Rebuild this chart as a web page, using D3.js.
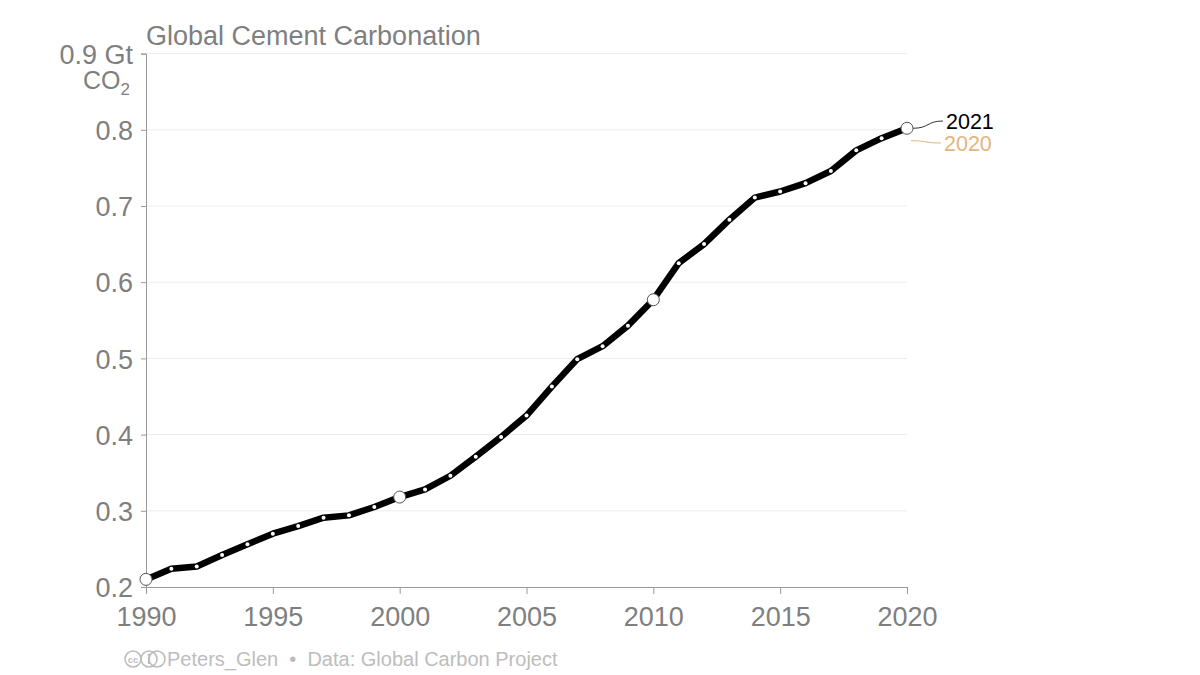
<!DOCTYPE html>
<html>
<head>
<meta charset="utf-8">
<script src="https://cdn.jsdelivr.net/npm/d3@7"></script>
<style>
    body { margin: 0; background: #fff; }
    svg { font-family: "Liberation Sans", Arial, sans-serif; }
</style>
</head>
<body>
<div id="chart"></div>
<script>
// Global cement carbonation, Gt CO2 (GCB 2021 release)
const years = d3.range(1990, 2021);
const values2021 = [
    0.210, 0.224, 0.227, 0.242, 0.256, 0.270, 0.280, 0.291, 0.294, 0.305,
    0.318, 0.328, 0.346, 0.371, 0.397, 0.425, 0.463, 0.499, 0.516, 0.543,
    0.577, 0.625, 0.650, 0.682, 0.711, 0.719, 0.730, 0.746, 0.773, 0.789,
    0.802
];
// end of the 2020 release, sits under the 2021 line
const end2020 = { year: 2020, value: 0.787 };
const yTicks = [0.2, 0.3, 0.4, 0.5, 0.6, 0.7, 0.8, 0.9];
const xTicks = [1990, 1995, 2000, 2005, 2010, 2015, 2020];
const bigDots = [1990, 2000, 2010, 2020];

const W = 1200, H = 675;
const margin = { top: 53.6, right: 293, bottom: 88, left: 146 };
const width = W - margin.left - margin.right;
const height = H - margin.top - margin.bottom;

const svg = d3.select("#chart").append("svg")
    .attr("width", W)
    .attr("height", H);

const g = svg.append("g")
    .attr("transform", `translate(${margin.left},${margin.top})`);

const x = d3.scaleLinear().domain([1990, 2020]).range([0, width]);
const y = d3.scaleLinear().domain([0.2, 0.9]).range([height, 0]);

const grey = "#7f7f7f";

// Gridlines
g.selectAll(".grid")
    .data(yTicks.slice(1))
    .enter().append("line")
    .attr("x1", 0).attr("x2", width)
    .attr("y1", d => y(d)).attr("y2", d => y(d))
    .attr("stroke", "#ececec")
    .attr("stroke-width", 1);

// Axes
const yAxis = g.append("g")
    .call(d3.axisLeft(y).tickValues(yTicks).tickSize(5).tickPadding(8)
        .tickFormat(d => d === 0.9 ? "0.9 Gt" : d3.format(".1f")(d)));
const xAxis = g.append("g")
    .attr("transform", `translate(0,${height})`)
    .call(d3.axisBottom(x).tickValues(xTicks).tickSize(7).tickPadding(13).tickFormat(d3.format("d")));

[yAxis, xAxis].forEach(a => {
    a.select(".domain").attr("stroke", "#999");
    a.selectAll(".tick line").attr("stroke", "#999");
    a.selectAll("text").attr("fill", grey).style("font-size", "27px");
});
yAxis.selectAll(".tick text").attr("dy", "0.36em");

// unit line under top tick
g.append("text")
    .attr("x", -16)
    .attr("y", y(0.9) + 35)
    .attr("text-anchor", "end")
    .attr("fill", grey)
    .style("font-size", "25px")
    .html('CO<tspan dy="6" font-size="17px">2</tspan>');

// Title
svg.append("text")
    .attr("x", margin.left)
    .attr("y", 45)
    .attr("fill", grey)
    .style("font-size", "27px")
    .text("Global Cement Carbonation");

// Line
const data = years.map((yr, i) => ({ year: yr, value: values2021[i] }));
const line = d3.line().x(d => x(d.year)).y(d => y(d.value));

g.append("path")
    .datum(data)
    .attr("d", line)
    .attr("fill", "none")
    .attr("stroke", "#000")
    .attr("stroke-width", 6.5)
    .attr("stroke-linejoin", "round")
    .attr("stroke-linecap", "round");

g.selectAll(".dot")
    .data(data.filter(d => !bigDots.includes(d.year)))
    .enter().append("circle")
    .attr("cx", d => x(d.year))
    .attr("cy", d => y(d.value))
    .attr("r", 2)
    .attr("fill", "#fff");

g.selectAll(".bigdot")
    .data(data.filter(d => bigDots.includes(d.year)))
    .enter().append("circle")
    .attr("cx", d => x(d.year))
    .attr("cy", d => y(d.value))
    .attr("r", 6)
    .attr("fill", "#fff")
    .attr("stroke", "#555")
    .attr("stroke-width", 1);

// End labels with curved connectors
const last = data[data.length - 1];
const labels = [
    { text: "2021", color: "#000", line: "#333", x0: x(last.year) + 6, y0: y(last.value), y1: 121 - margin.top },
    { text: "2020", color: "#e3b57c", line: "#e3b57c", x0: x(end2020.year) + 4, y0: y(end2020.value) + 1, y1: 143 - margin.top }
];
labels.forEach(l => {
    const x1 = l.x0 + 30;
    g.append("path")
        .attr("d", `M${l.x0},${l.y0} C${l.x0 + 16},${l.y0} ${x1 - 16},${l.y1} ${x1},${l.y1}`)
        .attr("fill", "none")
        .attr("stroke", l.line)
        .attr("stroke-width", 1);
    g.append("text")
        .attr("x", x1 + 3)
        .attr("y", l.y1)
        .attr("dy", "0.35em")
        .attr("fill", l.color)
        .style("font-size", "21.5px")
        .text(l.text);
});

// Footer
const foot = svg.append("g").attr("transform", "translate(0,659)");
const fc = "#bdbdbd";
foot.append("circle").attr("cx", 133).attr("cy", 0).attr("r", 8)
    .attr("fill", "none").attr("stroke", fc).attr("stroke-width", 1.6);
foot.append("text").attr("x", 133).attr("y", 3.5).attr("text-anchor", "middle")
    .attr("fill", fc).style("font-size", "9.5px").style("font-weight", "bold").text("cc");
foot.append("circle").attr("cx", 149).attr("cy", 0).attr("r", 8)
    .attr("fill", "none").attr("stroke", fc).attr("stroke-width", 1.6);
foot.append("circle").attr("cx", 149).attr("cy", -4).attr("r", 1.5).attr("fill", fc);
foot.append("line").attr("x1", 149).attr("x2", 149).attr("y1", -2).attr("y2", 5)
    .attr("stroke", fc).attr("stroke-width", 2.2);
foot.append("circle").attr("cx", 157).attr("cy", 0).attr("r", 8)
    .attr("fill", "none").attr("stroke", fc).attr("stroke-width", 1.6);
foot.append("text")
    .attr("x", 167)
    .attr("y", 7)
    .attr("fill", fc)
    .style("font-size", "20px")
    .attr("xml:space", "preserve")
    .text("Peters_Glen  •  Data: Global Carbon Project");
</script>
</body>
</html>
